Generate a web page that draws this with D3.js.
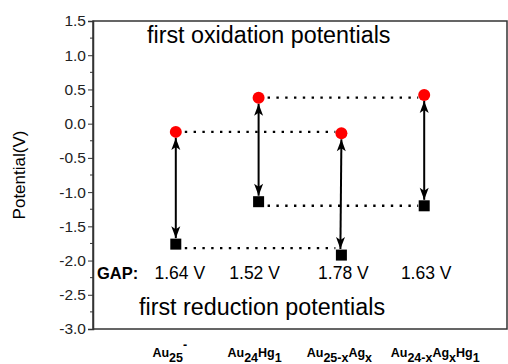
<!DOCTYPE html>
<html>
<head>
<meta charset="utf-8">
<script src="https://cdn.jsdelivr.net/npm/d3@7"></script>
<style>
  body { margin: 0; background: #fff; }
  svg { font-family: "Liberation Sans", Arial, sans-serif; }
</style>
</head>
<body>
<div id="chart"></div>
<script>
// cluster names, split into [text, subscript/superscript] pieces
const clusters = ["Au25-", "Au24Hg1", "Au25-xAgx", "Au24-xAgxHg1"];
const clusterLabels = [
  [["Au", 0], ["25", 1], ["-", -1]],
  [["Au", 0], ["24", 1], ["Hg", 0], ["1", 1]],
  [["Au", 0], ["25-x", 1], ["Ag", 0], ["x", 1]],
  [["Au", 0], ["24-x", 1], ["Ag", 0], ["x", 1], ["Hg", 0], ["1", 1]]
];
const oxidation = [-0.12, 0.38, -0.14, 0.42];
const reduction = [-1.76, -1.14, -1.92, -1.20];
const gapLabels = ["1.64 V", "1.52 V", "1.78 V", "1.63 V"];
const yTicks = [1.5, 1.0, 0.5, 0.0, -0.5, -1.0, -1.5, -2.0, -2.5, -3.0];
// dotted connectors: [from index, to index]
const oxPairs = [[0, 2], [1, 3]];
const redPairs = [[0, 2], [1, 3]];

const W = 508, H = 364;
const margin = { top: 21, right: 1, bottom: 35, left: 93 };

const svg = d3.select("#chart").append("svg")
  .attr("width", W)
  .attr("height", H);

const x = d3.scalePoint()
  .domain(clusters)
  .range([margin.left, W - margin.right])
  .padding(1);

const y = d3.scaleLinear()
  .domain([-3.0, 1.5])
  .range([H - margin.bottom, margin.top]);

// arrowhead marker
svg.append("defs").append("marker")
  .attr("id", "arrowhead")
  .attr("viewBox", "0 -5 12 10")
  .attr("refX", 12)
  .attr("refY", 0)
  .attr("orient", "auto-start-reverse")
  .attr("markerUnits", "userSpaceOnUse")
  .attr("markerWidth", 14)
  .attr("markerHeight", 10)
  .append("path")
  .attr("d", "M0,-4.5 L12,0 L0,4.5 L3,0 Z")
  .attr("fill", "#000");

// frame
svg.append("rect")
  .attr("x", margin.left)
  .attr("y", margin.top)
  .attr("width", W - margin.right - margin.left)
  .attr("height", H - margin.bottom - margin.top)
  .attr("fill", "none")
  .attr("stroke", "#333")
  .attr("stroke-width", 1.5);

// y axis
const yAxis = d3.axisLeft(y)
  .tickValues(yTicks)
  .tickSize(5)
  .tickFormat(d3.format(".1f"));
const gy = svg.append("g")
  .attr("transform", `translate(${margin.left},0)`)
  .call(yAxis);
gy.select(".domain").attr("stroke", "#333").attr("stroke-width", 1.5);
gy.selectAll(".tick line").attr("stroke", "#333");
gy.selectAll(".tick text")
  .attr("font-size", 15.5)
  .attr("font-family", "'Liberation Sans', Arial, sans-serif")
  .attr("fill", "#222")
  .attr("x", -7)
  .text(d => d3.format(".1f")(d).replace("−", "-"));

// minor ticks
svg.append("g")
  .selectAll("line")
  .data(d3.range(-2.75, 1.5, 0.5))
  .enter().append("line")
  .attr("x1", margin.left - 3)
  .attr("x2", margin.left)
  .attr("y1", d => y(d))
  .attr("y2", d => y(d))
  .attr("stroke", "#333");

// y axis title
svg.append("text")
  .attr("transform", `translate(25,${(margin.top + H - margin.bottom) / 2}) rotate(-90)`)
  .attr("text-anchor", "middle")
  .attr("font-size", 17)
  .text("Potential(V)");

// dotted connector lines
const dots = svg.append("g")
  .attr("stroke", "#000")
  .attr("stroke-width", 2.4)
  .attr("stroke-dasharray", "2.4,6.4")
  .attr("stroke-linecap", "butt");
dots.selectAll(".ox")
  .data(oxPairs)
  .enter().append("line")
  .attr("x1", d => x(clusters[d[0]]) + 9)
  .attr("x2", d => x(clusters[d[1]]) - 6)
  .attr("y1", d => y(oxidation[d[0]]))
  .attr("y2", d => y(oxidation[d[0]]));
dots.selectAll(".red")
  .data(redPairs)
  .enter().append("line")
  .attr("x1", d => x(clusters[d[0]]) + 9)
  .attr("x2", d => x(clusters[d[1]]) - 6)
  .attr("y1", d => y(reduction[d[0]]) + 4)
  .attr("y2", d => y(reduction[d[0]]) + 4);

// double-headed arrows
svg.append("g")
  .selectAll("line")
  .data(clusters)
  .enter().append("line")
  .attr("x1", d => x(d))
  .attr("x2", (d, i) => x(d) + (i === 2 ? -1 : 0))
  .attr("y1", (d, i) => y(oxidation[i]) + 6)
  .attr("y2", (d, i) => y(reduction[i]) - 6)
  .attr("stroke", "#000")
  .attr("stroke-width", 2)
  .attr("marker-start", "url(#arrowhead)")
  .attr("marker-end", "url(#arrowhead)");

// oxidation points
svg.append("g")
  .selectAll("circle")
  .data(clusters)
  .enter().append("circle")
  .attr("cx", d => x(d))
  .attr("cy", (d, i) => y(oxidation[i]))
  .attr("r", 6)
  .attr("fill", "#ff0000");

// reduction points
svg.append("g")
  .selectAll("rect")
  .data(clusters)
  .enter().append("rect")
  .attr("x", d => x(d) - 5.5)
  .attr("y", (d, i) => y(reduction[i]) - 5.5)
  .attr("width", 11)
  .attr("height", 11)
  .attr("fill", "#000");

// annotations
svg.append("text")
  .attr("x", 147)
  .attr("y", 43)
  .attr("font-size", 23.3)
  .text("first oxidation potentials");
svg.append("text")
  .attr("x", 139)
  .attr("y", 315)
  .attr("font-size", 23.3)
  .text("first reduction potentials");

svg.append("text")
  .attr("x", 97)
  .attr("y", 279)
  .attr("font-size", 16.5)
  .attr("font-weight", "bold")
  .text("GAP:");
svg.append("g")
  .selectAll("text")
  .data(gapLabels)
  .enter().append("text")
  .attr("x", (d, i) => x(clusters[i]) + (i === 0 ? 4 : i === 1 ? -4 : i === 2 ? 2 : 2))
  .attr("y", 279)
  .attr("text-anchor", "middle")
  .attr("font-size", 17.5)
  .text(d => d);

// category labels with subscripts
const cat = svg.append("g")
  .selectAll("text")
  .data(clusters)
  .enter().append("text")
  .attr("x", (d, i) => x(d) + [-6, -4, -2, 11][i])
  .attr("y", 357)
  .attr("text-anchor", "middle")
  .attr("font-size", 12.5)
  .attr("font-weight", "bold");
cat.each(function(d, i) {
  const t = d3.select(this);
  let shift = 0;
  clusterLabels[i].forEach(([s, k]) => {
    const target = k === 1 ? 5 : k === -1 ? -8 : 0;
    t.append("tspan")
      .attr("dy", target - shift)
      .text(s);
    shift = target;
  });
});
</script>
</body>
</html>
